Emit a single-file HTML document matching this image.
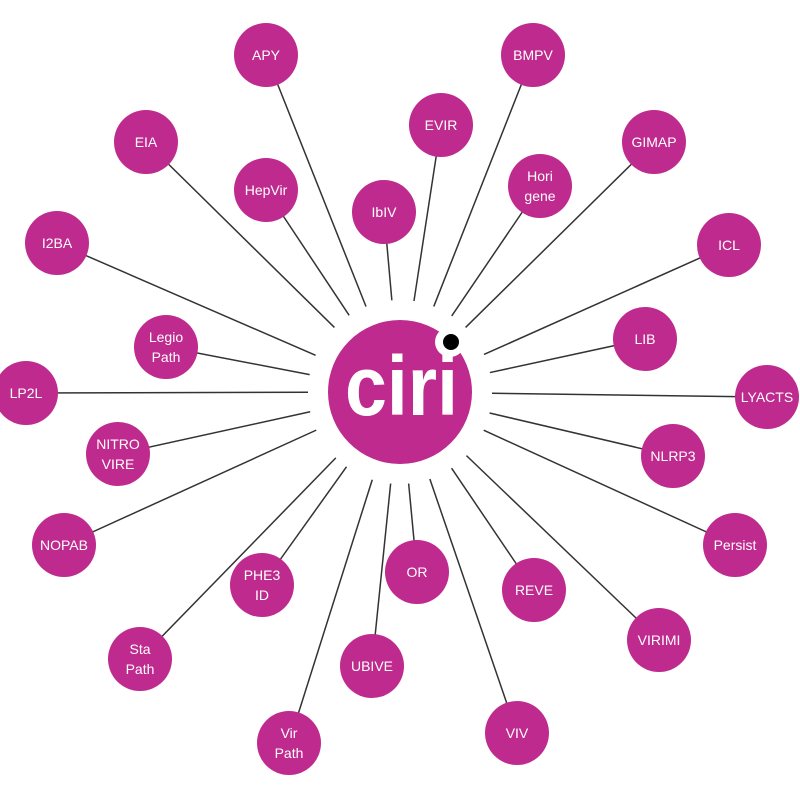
<!DOCTYPE html>
<html><head><meta charset="utf-8"><style>
html,body{margin:0;padding:0;background:#fff;}
svg{display:block}
text{font-family:"Liberation Sans",sans-serif;font-size:14px;fill:#fff;text-anchor:middle;}
</style></head><body>
<svg id="s" width="800" height="800" viewBox="0 0 800 800" xmlns="http://www.w3.org/2000/svg">
<g id="lines" stroke="#333" stroke-width="1.5"></g>
<g id="nodes"></g>
<circle cx="400" cy="392" r="72" fill="#bf2a8e"/>
<circle cx="450" cy="342" r="15" fill="#fff"/>
<circle cx="451" cy="342" r="8" fill="#000"/>
<text x="345" y="415" textLength="113" lengthAdjust="spacingAndGlyphs" style="font-size:84px;font-weight:bold;text-anchor:start">ciri</text>
</svg>
<script>
const N=[["APY",266,55],["BMPV",533,55],["EIA",146,142],["EVIR",441,125],["GIMAP",654,142],["HepVir",266,190],["IbIV",384,212],["Hori|gene",540,186],["I2BA",57,243],["ICL",729,245],["Legio|Path",166,347],["LIB",645,339],["LP2L",26,393],["LYACTS",767,397],["NITRO|VIRE",118,454],["NLRP3",673,456],["NOPAB",64,545],["Persist",735,545],["PHE3|ID",262,585],["OR",417,572],["REVE",534,590],["VIRIMI",659,640],["Sta|Path",140,659],["UBIVE",372,666],["VIV",517,733],["Vir|Path",289,743]];
const ns="http://www.w3.org/2000/svg",L=document.getElementById("lines"),G=document.getElementById("nodes");
const cx=400,cy=392;
for(const [t,x,y] of N){
 const dx=x-cx,dy=y-cy,d=Math.hypot(dx,dy);
 const l=document.createElementNS(ns,"line");
 l.setAttribute("x1",cx+dx/d*92);l.setAttribute("y1",cy+dy/d*92);
 l.setAttribute("x2",x);l.setAttribute("y2",y);L.appendChild(l);
 const c=document.createElementNS(ns,"circle");
 c.setAttribute("cx",x);c.setAttribute("cy",y);c.setAttribute("r",32);c.setAttribute("fill","#bf2a8e");G.appendChild(c);
 const parts=t.split("|");
 parts.forEach((p,i)=>{const e=document.createElementNS(ns,"text");
  e.setAttribute("x",x);e.setAttribute("y",y+5+(parts.length==2?(i?10:-10):0));
  e.textContent=p;G.appendChild(e);});
}
</script>
</body></html>
